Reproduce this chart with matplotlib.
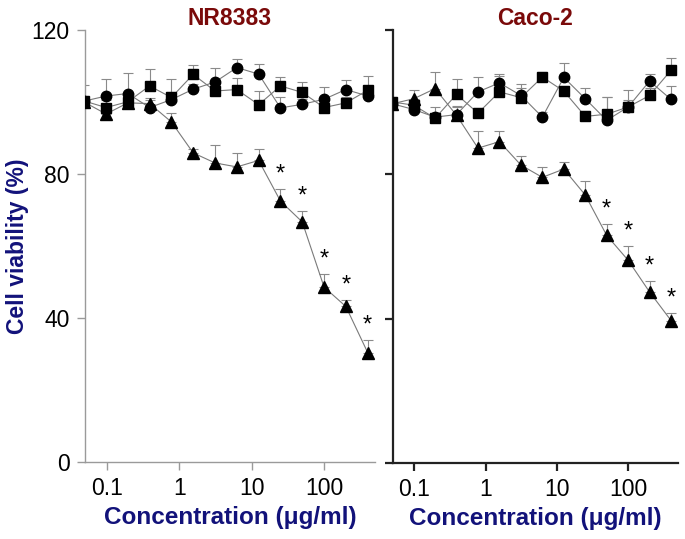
import matplotlib
matplotlib.use('Agg')
import matplotlib.pyplot as plt
from matplotlib.ticker import FixedLocator, FixedFormatter, NullLocator

plt.rcParams['font.family'] = ['Liberation Sans', 'DejaVu Sans']

# two-fold dilution series (ug/ml)
conc = [0.049, 0.098, 0.195, 0.39, 0.78, 1.56, 3.125, 6.25, 12.5, 25, 50, 100, 200, 400]

# NR8383
nr_tri = [100.0, 96.7, 99.8, 99.6, 94.5, 85.9, 83.1, 82.0, 83.8, 72.5, 66.7, 48.6, 43.2, 30.4]
nr_tri_err = [1.0, 1.5, 1.5, 1.5, 2.6, 1.2, 4.9, 4.0, 3.1, 3.4, 3.0, 3.7, 1.7, 3.5]
nr_circ = [100.3, 101.7, 102.4, 98.5, 100.7, 103.6, 105.6, 109.6, 107.8, 98.4, 99.4, 100.8, 103.5, 101.7]
nr_circ_err = [1.5, 4.6, 5.6, 2.0, 5.8, 1.5, 3.8, 2.3, 2.7, 3.1, 1.5, 3.4, 2.6, 2.0]
nr_sq = [100.3, 98.5, 100.1, 104.5, 101.3, 107.7, 103.1, 103.5, 99.3, 104.5, 102.7, 98.5, 99.8, 103.3]
nr_sq_err = [4.5, 2.0, 2.0, 4.8, 1.5, 2.6, 1.5, 3.3, 3.8, 2.6, 3.0, 2.5, 1.5, 4.0]
nr_sig = [9, 10, 11, 12, 13]

# Caco-2
cc_tri = [99.6, 101.0, 103.8, 96.4, 87.3, 89.1, 82.6, 79.2, 81.5, 74.3, 63.1, 56.2, 47.4, 39.5]
cc_tri_err = [1.5, 2.3, 4.5, 2.5, 4.7, 2.9, 2.4, 2.8, 1.9, 3.8, 3.1, 4.0, 3.1, 2.1]
cc_circ = [99.6, 98.0, 95.9, 96.6, 102.9, 105.4, 101.9, 95.9, 106.9, 101.0, 95.0, 98.7, 105.9, 100.8]
cc_circ_err = [1.5, 1.5, 2.9, 2.0, 4.2, 2.0, 2.0, 1.5, 3.9, 3.1, 6.5, 2.0, 2.0, 3.7]
cc_sq = [100.1, 99.2, 95.6, 102.2, 97.0, 102.9, 101.3, 107.0, 103.1, 96.1, 96.7, 98.7, 101.9, 108.9]
cc_sq_err = [1.5, 1.5, 1.5, 4.4, 1.5, 4.9, 3.9, 1.5, 1.5, 1.5, 4.8, 4.8, 2.0, 3.4]
cc_sig = [10, 11, 12, 13]

xticks = [0.1, 1, 10, 100]
xticklabels = ['0.1', '1', '10', '100']
yticks = [0, 40, 80, 120]

TITLE_C = '#7a0a0a'
LABEL_C = '#12127a'


def draw_panel(ax, series, sig, title, spine_c, spine_w):
    for vals, errs, mk, ms in series:
        ax.errorbar(conc, vals, yerr=[[0] * len(errs), errs], fmt='none',
                    ecolor='#8a8a8a', elinewidth=0.8, capsize=3.5, capthick=0.8, zorder=2)
        ax.plot(conc, vals, color='#7a7a7a', lw=0.8, zorder=3)
        ax.plot(conc, vals, ls='none', marker=mk, ms=ms, color='black', zorder=4)
    # significance stars above the triangle series
    tri, tri_err = series[0][0], series[0][1]
    for i in sig:
        ax.text(conc[i], tri[i] + tri_err[i] + 4.0, '*', ha='center', va='center',
                fontsize=17, color='black')

    ax.set_xscale('log')
    ax.set_xlim(0.05, 500)
    ax.set_ylim(0, 120)
    ax.xaxis.set_major_locator(FixedLocator(xticks))
    ax.xaxis.set_major_formatter(FixedFormatter(xticklabels))
    ax.xaxis.set_minor_locator(NullLocator())
    ax.set_yticks(yticks)
    for s in ['top', 'right']:
        ax.spines[s].set_visible(False)
    for s in ['left', 'bottom']:
        ax.spines[s].set_color(spine_c)
        ax.spines[s].set_linewidth(spine_w)
    ax.tick_params(axis='both', direction='out', length=6, width=spine_w,
                   color=spine_c, labelsize=16.5, pad=5)
    ax.set_title(title, color=TITLE_C, fontsize=16.5, fontweight='bold', pad=4)
    ax.set_xlabel('Concentration (\u03bcg/ml)', color=LABEL_C, fontsize=17.5,
                  fontweight='bold', labelpad=4)


fig = plt.figure(figsize=(6.85, 5.39), dpi=100)
ax1 = fig.add_axes([0.124, 0.143, 0.423, 0.801])
ax2 = fig.add_axes([0.5737, 0.141, 0.416, 0.803])

draw_panel(ax1, [(nr_tri, nr_tri_err, '^', 8.5), (nr_circ, nr_circ_err, 'o', 7.5),
                 (nr_sq, nr_sq_err, 's', 7)], nr_sig, 'NR8383', '#9a9a9a', 1.0)
draw_panel(ax2, [(cc_tri, cc_tri_err, '^', 8.5), (cc_circ, cc_circ_err, 'o', 7.5),
                 (cc_sq, cc_sq_err, 's', 7)], cc_sig, 'Caco-2', '#222222', 1.6)
ax2.set_yticklabels([])
ax1.set_ylabel('Cell viability (%)', color=LABEL_C, fontsize=16.5, fontweight='bold', labelpad=2)

fig.savefig('out.png', dpi=100)
